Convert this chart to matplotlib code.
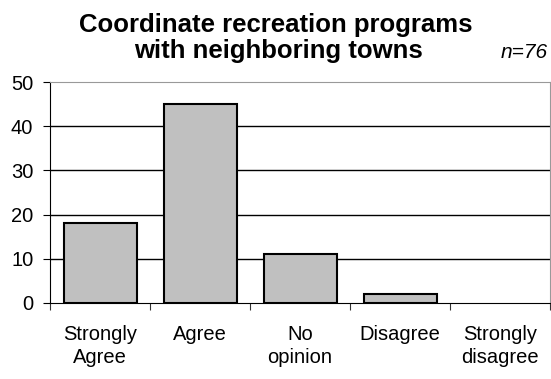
import matplotlib
matplotlib.use("Agg")
import matplotlib.pyplot as plt

categories = ["Strongly\nAgree", "Agree", "No\nopinion", "Disagree", "Strongly\ndisagree"]
values = [18, 45, 11, 2, 0]
yticks = [0, 10, 20, 30, 40, 50]
title_lines = ["Coordinate recreation programs", "with neighboring towns"]
note = "n=76"

plt.rcParams['font.family'] = ['Liberation Sans', 'DejaVu Sans']

W, H = 551, 379
fig = plt.figure(figsize=(W / 100, H / 100), dpi=100)
ax = fig.add_axes([50/W, 1 - 303/H, 500/W, 221/H])

x = list(range(len(categories)))
bars = ax.bar(x, values, width=0.73, color="#C0C0C0", edgecolor="black", linewidth=1.5, zorder=3)
for b, v in zip(bars, values):
    if v == 0:
        b.set_linewidth(0)
ax.set_xlim(-0.5, len(categories) - 0.5)
ax.set_ylim(0, 50)
ax.set_yticks(yticks)
ax.set_yticklabels([str(t) for t in yticks], fontsize=14.5)
for t in yticks[1:-1]:
    ax.axhline(t, color="black", linewidth=1, zorder=1)

ax.set_xticks([i + 0.5 for i in x[:-1]] + [-0.5, len(categories) - 0.5])
ax.set_xticklabels([])
ax.tick_params(axis='x', length=5, direction='out', color='#333333')
ax.tick_params(axis='y', length=5, direction='out', pad=7)
for i, c in enumerate(categories):
    ax.text(i, -0.10, c, transform=ax.get_xaxis_transform(), ha='center', va='top',
            fontsize=14.5, linespacing=1.25)

ax.spines['left'].set_color('black')
ax.spines['bottom'].set_color('black')
ax.spines['top'].set_color('#999999')
ax.spines['right'].set_color('#999999')

fig.text(276/W, 1 - 32/H, title_lines[0], ha='center', va='baseline',
         fontsize=18.5, fontweight='bold')
fig.text(278/W, 1 - 58/H, title_lines[1], ha='center', va='baseline',
         fontsize=18.5, fontweight='bold')
fig.text(548/W, 1 - 58/H, note, ha='right', va='baseline', fontsize=15, style='italic')

fig.savefig("out.png", dpi=100)
